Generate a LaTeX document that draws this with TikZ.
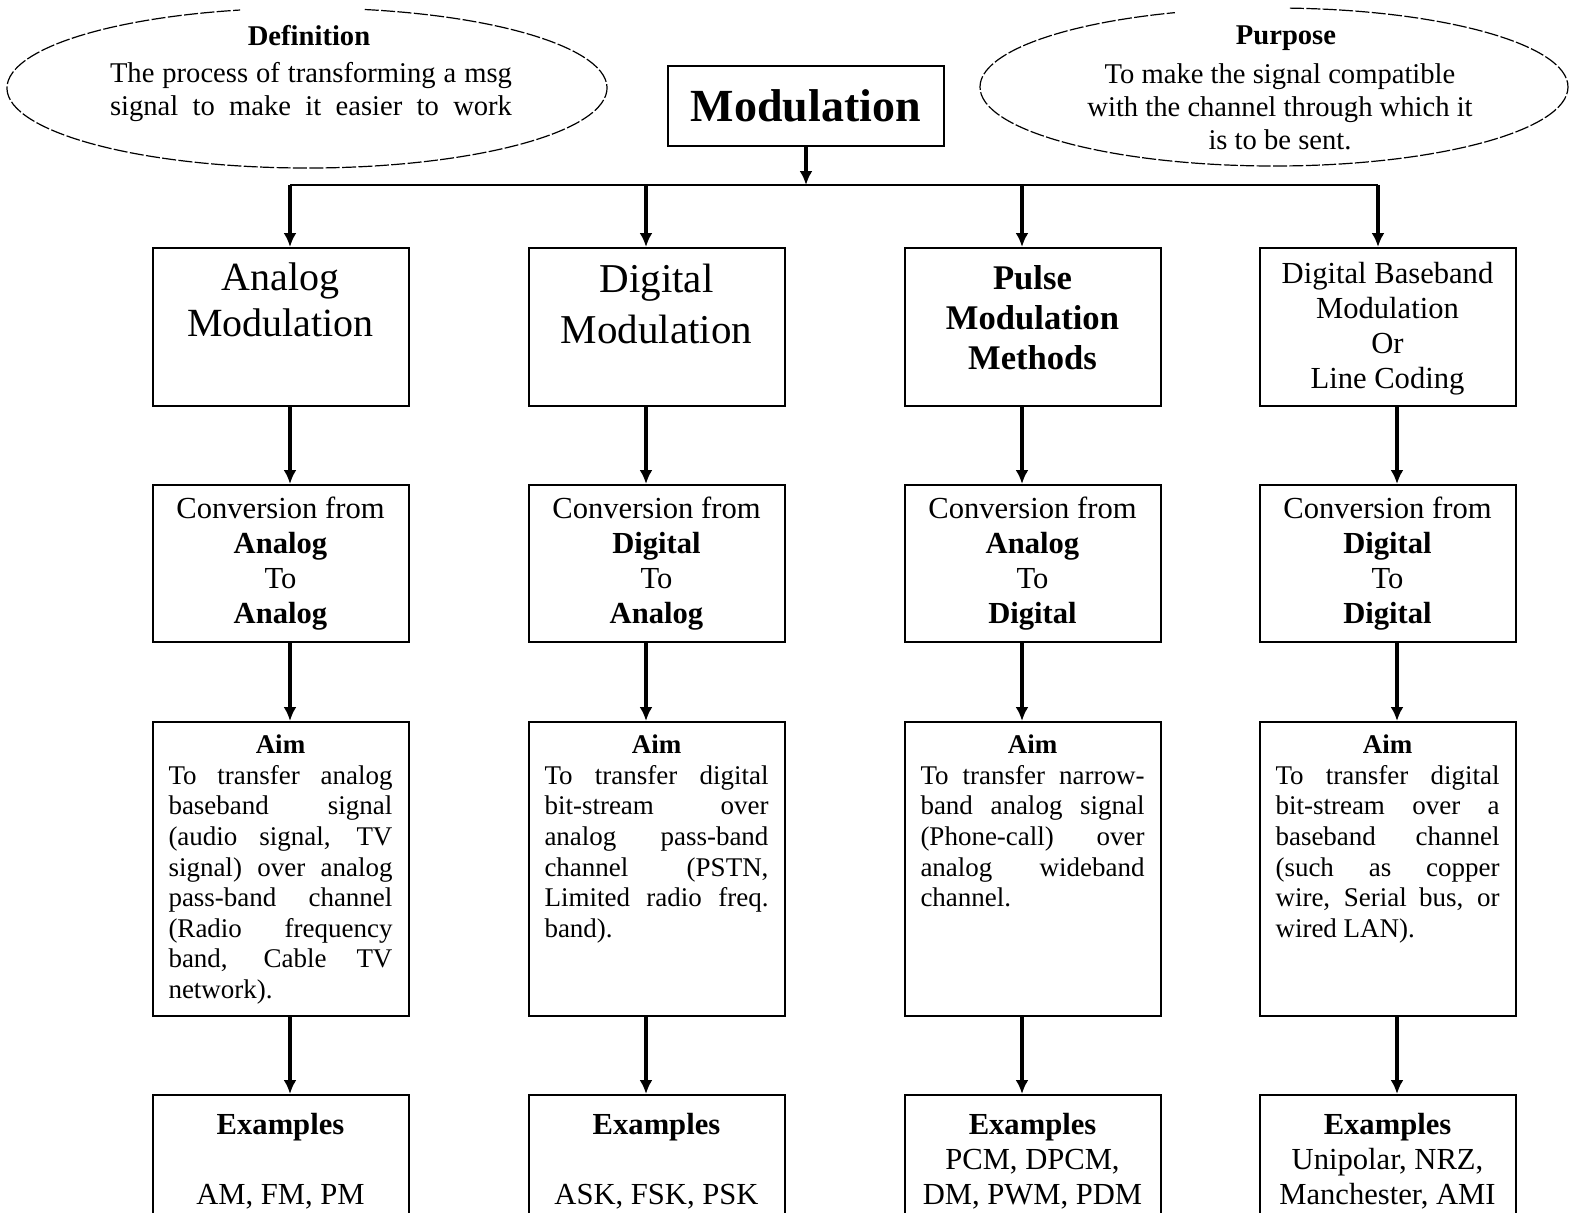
\documentclass[tikz,border=0pt]{standalone}
\usepackage{fontspec}
\setmainfont{Liberation Serif}
\usetikzlibrary{arrows.meta,positioning}

% cell contents: height, top skip, text
\newcommand{\topcell}[3]{\parbox[c][#1][t]{112pt}{\centering\vspace*{#2}#3\par}}
\newcommand{\aimcell}[1]{\parbox[c][147pt][t]{112pt}{\vspace*{6.5pt}%
  {\centering\textbf{Aim}\par}\hyphenpenalty=10000 #1\par}}

\tikzset{
  box/.style={draw, line width=1pt, minimum width=128pt, inner sep=0pt, anchor=north},
  arr/.style={-{Latex[length=7pt,width=6.5pt]}, line width=2pt},
  oval/.style={line width=0.6pt, dash pattern=on 7pt off 1.2pt},
  mid/.style={font=\fontsize{15.3}{17.5}\selectfont},
  small/.style={font=\fontsize{13.5}{15.3}\selectfont},
}

\begin{document}
\begin{tikzpicture}[x=0.5pt,y=-0.5pt]
  \useasboundingbox (0,0) rectangle (1570,1212);

  %% definition / purpose ovals
  \draw[oval] (307,88) ++(281.1:300 and 80)
    arc[start angle=281.1, end angle=617.1, x radius=300, y radius=80];
  \draw[oval] (1274,87) ++(273.1:294 and 79)
    arc[start angle=273.1, end angle=610.3, x radius=294, y radius=79];

  \node[font=\fontsize{14.3}{16.5}\selectfont\bfseries] (defhead) at (309,36) {Definition};
  \node[font=\fontsize{14.3}{16.5}\selectfont] (deftext) at (311,92.5)
    {\parbox{201pt}{\parfillskip=0pt The process of transforming a msg\linebreak
     signal to make it easier to work}};
  \node[font=\fontsize{14.3}{16.5}\selectfont\bfseries] (purhead) at (1286,38) {Purpose};
  \node[font=\fontsize{14.3}{16.5}\selectfont, align=center] (purtext) at (1280,107)
    {To make the signal compatible\\with the channel through which it\\is to be sent.};

  %% root
  \node[draw, line width=1pt, minimum width=138pt, minimum height=40pt,
        font=\fontsize{23}{26}\selectfont\bfseries] (mod) at (806,106) {Modulation};

  %% row 1
  \node[box] (type1) at (280.5,247) {\topcell{79pt}{7.5pt}{\fontsize{20}{23}\selectfont Analog\\Modulation}};
  \node[box] (type2) at (656.5,247) {\topcell{79pt}{8pt}{\fontsize{20.5}{25.5}\selectfont Digital\\Modulation}};
  \node[box] (type3) at (1032.5,247) {\topcell{79pt}{8.5pt}{\fontsize{17.3}{20}\selectfont\bfseries Pulse\\Modulation\\Methods}};
  \node[box] (type4) at (1387.5,247) {\topcell{79pt}{7pt}{\fontsize{15.3}{17.5}\selectfont Digital Baseband\\Modulation\\Or\\Line Coding}};

  %% row 2
  \node[box, mid, minimum height=78.5pt, align=center] (conv1) at (280.5,484)
    {Conversion from\\\textbf{Analog}\\To\\\textbf{Analog}};
  \node[box, mid, minimum height=78.5pt, align=center] (conv2) at (656.5,484)
    {Conversion from\\\textbf{Digital}\\To\\\textbf{Analog}};
  \node[box, mid, minimum height=78.5pt, align=center] (conv3) at (1032.5,484)
    {Conversion from\\\textbf{Analog}\\To\\\textbf{Digital}};
  \node[box, mid, minimum height=78.5pt, align=center] (conv4) at (1387.5,484)
    {Conversion from\\\textbf{Digital}\\To\\\textbf{Digital}};

  %% row 3
  \node[box, small] (aim1) at (280.5,721) {\aimcell{To transfer analog\linebreak
    baseband signal\linebreak (audio signal, TV\linebreak signal) over analog\linebreak
    pass-band channel\linebreak (Radio frequency\linebreak band, Cable TV\linebreak network).}};
  \node[box, small] (aim2) at (656.5,721) {\aimcell{To transfer digital\linebreak
    bit-stream over\linebreak analog pass-band\linebreak channel (PSTN,\linebreak
    Limited radio freq.\linebreak band).}};
  \node[box, small] (aim3) at (1032.5,721) {\aimcell{To transfer narrow-\linebreak
    band analog signal\linebreak (Phone-call) over\linebreak analog wideband\linebreak channel.}};
  \node[box, small] (aim4) at (1387.5,721) {\aimcell{To transfer digital\linebreak
    bit-stream over a\linebreak baseband channel\linebreak (such as copper\linebreak
    wire, Serial bus, or\linebreak wired LAN).}};

  %% row 4
  \node[box] (ex1) at (280.5,1094) {\topcell{80pt}{9pt}{\fontsize{15.3}{17.5}\selectfont\textbf{Examples}\\[17.5pt]AM, FM, PM}};
  \node[box] (ex2) at (656.5,1094) {\topcell{80pt}{9pt}{\fontsize{15.3}{17.5}\selectfont\textbf{Examples}\\[17.5pt]ASK, FSK, PSK}};
  \node[box] (ex3) at (1032.5,1094) {\topcell{80pt}{9pt}{\fontsize{15.3}{17.5}\selectfont\textbf{Examples}\\PCM, DPCM,\\DM, PWM, PDM}};
  \node[box] (ex4) at (1387.5,1094) {\topcell{80pt}{9pt}{\fontsize{15.3}{17.5}\selectfont\textbf{Examples}\\Unipolar, NRZ,\\Manchester, AMI}};

  %% connectors
  \coordinate (junc) at (806,185);
  \coordinate (d1) at (290,185);
  \coordinate (d2) at (646,185);
  \coordinate (d3) at (1022,185);
  \coordinate (d4) at (1378,185);
  \draw[arr] (mod) -- (junc);
  \draw[line width=1pt] (d1) -- (d4);
  \foreach \c in {1,...,4}
    \draw[arr] (d\c) -- (d\c |- type\c.north);

  \foreach \c/\s in {1/4.75pt, 2/-5.25pt, 3/-5.25pt, 4/4.75pt} {
    \draw[arr] ([xshift=\s]type\c.south) -- ([xshift=\s]conv\c.north);
    \draw[arr] ([xshift=\s]conv\c.south) -- ([xshift=\s]aim\c.north);
    \draw[arr] ([xshift=\s]aim\c.south) -- ([xshift=\s]ex\c.north);
  }
\end{tikzpicture}
\end{document}
